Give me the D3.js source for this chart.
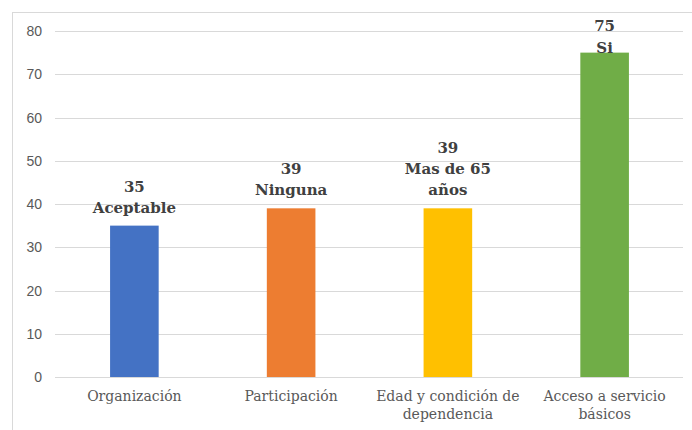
<!DOCTYPE html>
<html>
<head>
<meta charset="utf-8">
<script src="https://cdn.jsdelivr.net/npm/d3@7"></script>
<style>
  body { margin: 0; background: #fff; }
  svg { display: block; }
  .serif { font-family: 'DejaVu Serif', serif; }
</style>
</head>
<body>
<div id="chart"></div>
<script>
// chart data
const categories = ['Organización', 'Participación', 'Edad y condición de|dependencia', 'Acceso a servicio|básicos'];
const values = [35, 39, 39, 75];
const dataLabels = ['35|Aceptable', '39|Ninguna', '39|Mas de 65|años', '75|Si'];
const barColors = ['#4472c4', '#ed7d31', '#ffc000', '#70ad47'];
const yTicks = [0, 10, 20, 30, 40, 50, 60, 70, 80];

const width = 692;
const height = 430;

const svg = d3.select('#chart').append('svg')
  .attr('width', width)
  .attr('height', height);

// outer chart border (only top and left are in view)
svg.append('rect')
  .attr('x', 12.5)
  .attr('y', 12.5)
  .attr('width', 700)
  .attr('height', 440)
  .attr('fill', 'none')
  .attr('stroke', '#d9d9d9');

let x = d3.scaleBand()
  .domain(categories)
  .range([56, 683])
  .paddingInner(0.69)
  .paddingOuter(0.345);

let y = d3.scaleLinear()
  .domain([0, 80])
  .range([377, 31]);

// gridlines
svg.append('g')
  .selectAll('line')
  .data(yTicks)
  .enter().append('line')
  .attr('x1', 55)
  .attr('x2', 683)
  .attr('y1', d => Math.round(y(d)) + 0.5)
  .attr('y2', d => Math.round(y(d)) + 0.5)
  .attr('stroke', '#d9d9d9')
  .attr('stroke-width', 1);

// y tick labels
svg.append('g')
  .selectAll('text')
  .data(yTicks)
  .enter().append('text')
  .attr('x', 42)
  .attr('y', d => y(d) + 5)
  .attr('text-anchor', 'end')
  .style('font-family', "'Liberation Sans', Arial, sans-serif")
  .style('font-size', '14px')
  .attr('fill', '#595959')
  .text(d => d);

// bars
svg.append('g')
  .selectAll('rect')
  .data(values)
  .enter().append('rect')
  .attr('x', (d, i) => x(categories[i]))
  .attr('width', x.bandwidth())
  .attr('y', d => y(d))
  .attr('height', d => y(0) - y(d))
  .attr('fill', (d, i) => barColors[i]);

// data labels, pushed down when they would leave the plot
const lineGap = 21;
dataLabels.forEach((lbl, i) => {
  let lines = lbl.split('|');
  let cx = x(categories[i]) + x.bandwidth() / 2;
  let first = y(values[i]) - 13 - (lines.length - 1) * lineGap;
  let gap = lineGap;
  if (first < 31) { first = 31; gap = 22; }
  let t = svg.append('text')
    .attr('class', 'serif')
    .attr('text-anchor', 'middle')
    .style('font-weight', 'bold')
    .style('font-size', '15px')
    .attr('fill', '#404040');
  lines.forEach((s, j) => {
    t.append('tspan')
      .attr('x', cx)
      .attr('y', first + j * gap)
      .text(s);
  });
});

// category labels
categories.forEach(c => {
  let lines = c.split('|');
  let cx = x(c) + x.bandwidth() / 2;
  let t = svg.append('text')
    .attr('class', 'serif')
    .attr('text-anchor', 'middle')
    .style('font-size', '14px')
    .attr('fill', '#595959');
  lines.forEach((s, j) => {
    t.append('tspan')
      .attr('x', cx)
      .attr('y', 401 + j * 18)
      .text(s);
  });
});
</script>
</body>
</html>
